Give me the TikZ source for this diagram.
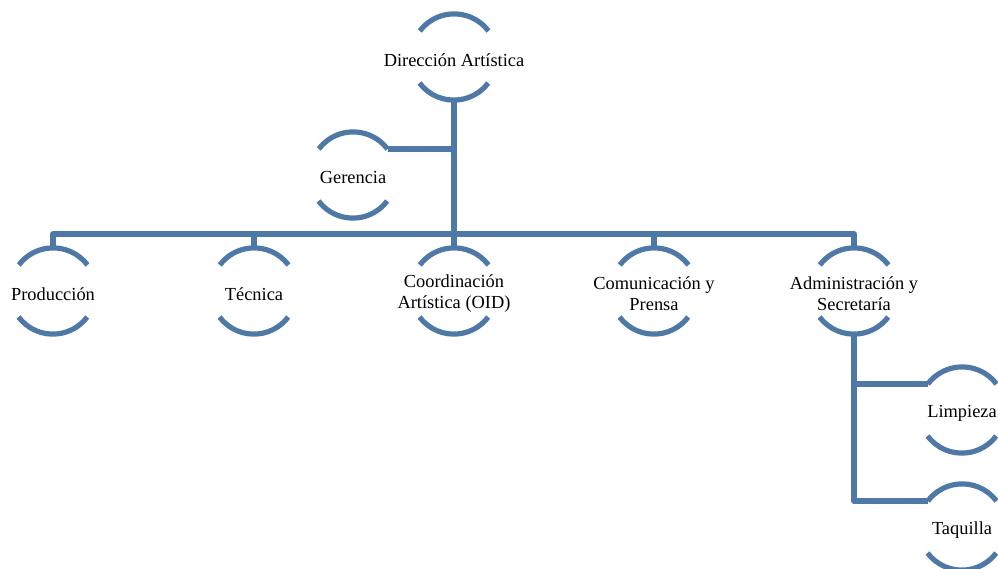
\documentclass[tikz,border=0pt]{standalone}
\usepackage{fontspec}
\setmainfont{Liberation Serif}
\definecolor{orgblue}{RGB}{78,121,167}
\tikzset{
  unit/.style={circle, minimum size=86pt, inner sep=0pt,
    label={[align=center, yshift=-3pt, font=\fontsize{18.4}{21}\selectfont]center:#1}},
  arcline/.style={draw=orgblue, line width=5.2pt},
  link/.style={draw=orgblue, line width=5.5pt, line join=round}
}
\begin{document}
\begin{tikzpicture}[x=1pt, y=1pt]
  \useasboundingbox (0,0) rectangle (998,-569);
  \node[unit={Dirección Artística}] (dir) at (454,-57) {};
  \node[unit={Gerencia}] (ger) at (353,-175) {};
  \node[unit={Producción}] (prod) at (53,-291) {};
  \node[unit={Técnica}] (tec) at (254,-291) {};
  \node[unit={Coordinación\\Artística (OID)}] (coord) at (454,-291) {};
  \node[unit={Comunicación y\\Prensa}] (com) at (654,-291) {};
  \node[unit={Administración y\\Secretaría}] (adm) at (854,-291) {};
  \node[unit={Limpieza}] (lim) at (962,-410) {};
  \node[unit={Taquilla}] (taq) at (962,-527) {};
  \coordinate (bus) at (454,-234);
  % arcs
  \foreach \n in {dir,ger,prod,tec,coord,com,adm,lim,taq} {
    \draw[arcline] (\n.37) arc[start angle=37, end angle=143, radius=43pt];
    \draw[arcline] (\n.217) arc[start angle=217, end angle=323, radius=43pt];
  }
  % connectors
  \draw[link] (dir.south) -- (coord.north);
  \draw[link] (ger.37) -- (ger.37 -| dir.south);
  \draw[link] (prod.north) |- (bus) -| (adm.north);
  \draw[link] (tec.north) -- (tec.north |- bus);
  \draw[link] (com.north) -- (com.north |- bus);
  \draw[link] (adm.south) |- (lim.143);
  \draw[link] (adm.south) |- (taq.143);
\end{tikzpicture}
\end{document}
